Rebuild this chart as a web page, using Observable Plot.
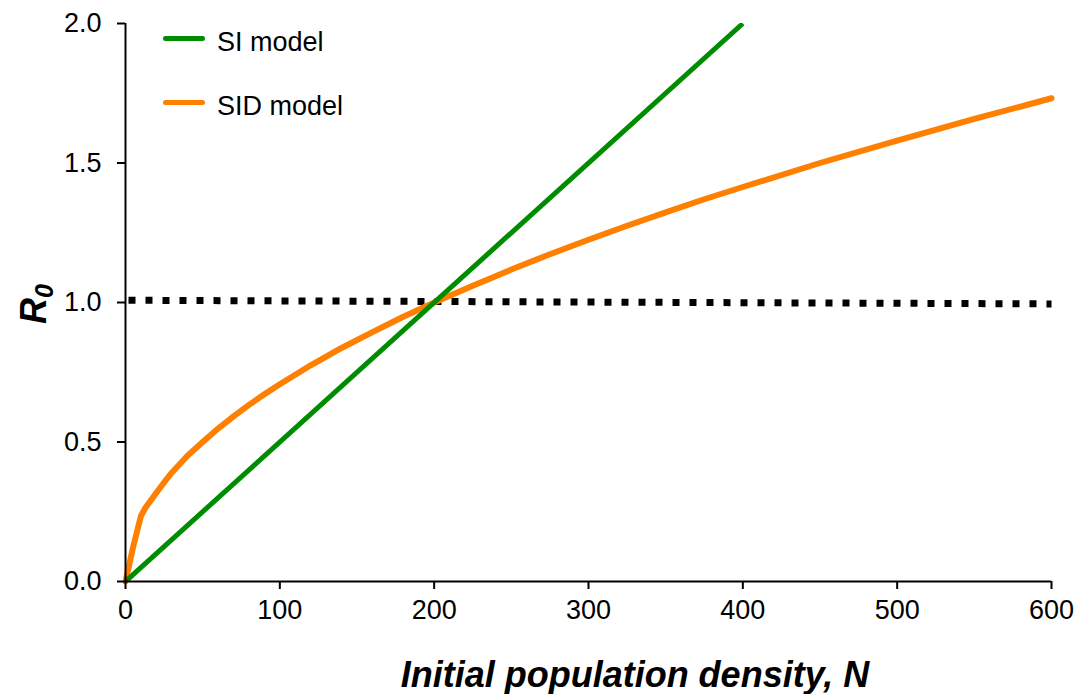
<!DOCTYPE html>
<html>
<head>
<meta charset="utf-8">
<script src="https://cdn.jsdelivr.net/npm/d3@7"></script>
<script src="https://cdn.jsdelivr.net/npm/@observablehq/plot@0.6"></script>
<style>
  html, body { margin: 0; padding: 0; background: white; }
  #chart { position: relative; width: 1078px; height: 694px; font-family: "Liberation Sans", Arial, sans-serif; }
  #legend { position: absolute; left: 163px; top: 23px; font-size: 27px; color: #000; }
  .item { position: absolute; left: 0; white-space: nowrap; display: flex; align-items: center; }
  .swatch { display: inline-block; width: 42px; height: 5px; border-radius: 3px; margin-right: 12px; }
  .lbl { position: relative; top: 4px; }
</style>
</head>
<body>
<div id="chart">
  <div id="legend"></div>
</div>
<script>
// ---- data ----
const seriesNames = ["SI model", "SID model"];
const seriesColors = ["#008c00", "#ff7f00"];

const siN = [0, 400];
const siR0 = [0, 2.0];

const sidN = [0, 5, 10, 13, 16, 20, 25, 30, 40, 50, 60, 70, 80, 90, 100, 120, 140, 160, 180, 200, 225, 250, 275, 300, 325, 350, 375, 400, 450, 500, 550, 600];
const sidR0 = [0, 0.125, 0.235, 0.265, 0.288, 0.318, 0.355, 0.39, 0.45, 0.5, 0.548, 0.592, 0.633, 0.671, 0.707, 0.775, 0.837, 0.894, 0.949, 1.0, 1.06, 1.118, 1.173, 1.225, 1.275, 1.323, 1.37, 1.414, 1.5, 1.58, 1.658, 1.732];

const thresholdN = [0, 600];
const thresholdR0 = [1.008, 0.995];

const xTicks = [0, 100, 200, 300, 400, 500, 600];
const yTicks = [0, 0.5, 1.0, 1.5, 2.0];

const xLabel = "Initial population density, N";

// ---- build tables ----
const si = siN.map((n, i) => ({N: n, R0: siR0[i]}));
const sid = sidN.map((n, i) => ({N: n, R0: sidR0[i]}));
const thr = thresholdN.map((n, i) => ({N: n, R0: thresholdR0[i]}));

const plot = Plot.plot({
  width: 1078,
  height: 694,
  marginLeft: 125,
  marginRight: 27,
  marginTop: 23,
  marginBottom: 113,
  style: {fontFamily: "'Liberation Sans', Arial, sans-serif", background: "white", color: "black", overflow: "visible"},
  x: {domain: [0, 600]},
  y: {domain: [0, 2]},
  marks: [
    Plot.line(thr, {x: "N", y: "R0", stroke: "black", strokeWidth: 7, strokeLinecap: "butt", strokeDasharray: "7,10", strokeDashoffset: -3}),
    Plot.line(sid, {x: "N", y: "R0", stroke: seriesColors[1], strokeWidth: 6, curve: "linear"}),
    Plot.line(si, {x: "N", y: "R0", stroke: seriesColors[0], strokeWidth: 5, strokeLinecap: "butt", clip: true}),
    Plot.ruleX([0], {stroke: "black", strokeWidth: 2}),
    Plot.ruleY([0], {stroke: "black", strokeWidth: 2}),
    Plot.axisX({ticks: xTicks, tickSize: 8, tickPadding: 10, fontSize: 27, strokeWidth: 2, label: null, tickFormat: d3.format("d")}),
    Plot.axisY({ticks: yTicks, tickSize: 8, tickPadding: 16, fontSize: 27, strokeWidth: 2, label: null, tickFormat: d3.format(".1f")})
  ]
});

document.getElementById("chart").prepend(plot);

// axis titles as SVG text
const svg = d3.select(plot);
svg.append("text")
  .attr("x", 635).attr("y", 687)
  .attr("text-anchor", "middle")
  .attr("font-size", 36).attr("font-weight", "bold").attr("font-style", "italic")
  .attr("fill", "black")
  .text(xLabel);

const yt = svg.append("text")
  .attr("transform", "translate(46,304) rotate(-90)")
  .attr("text-anchor", "middle")
  .attr("font-size", 36).attr("font-weight", "bold").attr("font-style", "italic")
  .attr("fill", "black");
yt.append("tspan").text("R");
yt.append("tspan").attr("font-size", 25).attr("dy", 7).text("0");

// legend
const legend = document.getElementById("legend");
seriesNames.forEach((name, i) => {
  const item = document.createElement("div");
  item.className = "item";
  item.style.top = (i * 64) + "px";
  const sw = document.createElement("span");
  sw.className = "swatch";
  sw.style.background = seriesColors[i];
  const label = document.createElement("span");
  label.className = "lbl";
  label.textContent = name;
  item.appendChild(sw);
  item.appendChild(label);
  legend.appendChild(item);
});
</script>
</body>
</html>
